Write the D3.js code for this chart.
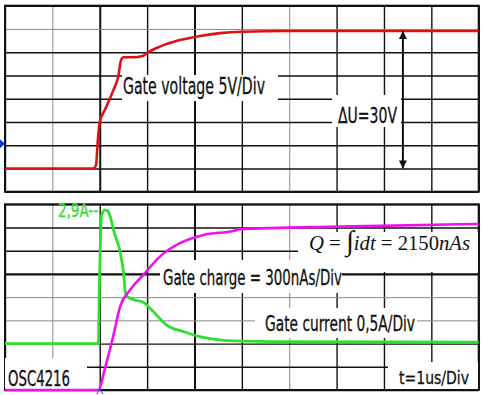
<!DOCTYPE html>
<html lang="en">
<head>
  <meta charset="UTF-8">
  <title>Gate charge</title>
  <script src="https://cdn.jsdelivr.net/npm/d3@7"></script>
  <style>
    body { margin: 0; background: #fff; }
    svg { display: block; }
    .lbl { font-family: 'Liberation Sans Narrow', 'DejaVu Sans Condensed', sans-serif; fill: #111; stroke-width: 0.3; }
  </style>
</head>
<body>
<svg id="scope" width="483" height="395"></svg>
<script>
  // gate voltage trace (us, V)
  var tVolt    = [0, 1.86, 1.92, 1.96, 2.0, 2.11, 2.29, 2.39, 2.45, 2.5, 2.7, 2.91, 2.99, 3.27, 3.69, 4.12, 4.54, 5.0, 6.0, 10];
  var gateVolt = [0, 0, 0.6, 6.1, 10, 12.6, 16.9, 19.7, 23.3, 23.9, 23.9, 24.2, 24.8, 26.2, 27.6, 28.5, 29.1, 29.4, 29.55, 29.55];
  // gate current trace (us, A)
  var tCurr    = [0, 1.97, 1.99, 2.04, 2.11, 2.18, 2.32, 2.43, 2.5, 2.55, 2.67, 2.92, 3.13, 3.41, 3.76, 4.11, 4.82, 6.0, 10];
  var gateCurr = [0, 0, 1.1, 2.77, 2.88, 2.84, 2.34, 1.98, 1.55, 1.05, 0.96, 0.89, 0.69, 0.40, 0.26, 0.15, 0.06, 0.04, 0.03];
  // gate charge trace (us, nAs)
  var tCharge    = [0, 1.97, 2.11, 2.29, 2.43, 2.64, 2.92, 3.27, 3.69, 4.19, 4.82, 4.96, 7.07, 10];
  var gateCharge = [0, 0, 280, 711, 1077, 1293, 1488, 1724, 1897, 2004, 2056, 2077, 2112, 2146];

  var svg = d3.select('#scope');

  var x  = d3.scaleLinear().domain([0, 10]).range([5, 478.7]);         // 1us/Div
  var yV = d3.scaleLinear().domain([-5, 35]).range([191.7, 5.7]);      // 5V/Div
  var yI = d3.scaleLinear().domain([-1, 3]).range([390, 204.3]);       // 0,5A/Div
  var yQ = d3.scaleLinear().domain([0, 2400]).range([390, 204.3]);     // 300nAs/Div

  // scope graticule, some lines came out lighter / heavier in the scan
  function graticule(yScale, grayX, heavyX, grayY, heavyY) {
    var y0 = yScale.range()[0], y1 = yScale.range()[1];
    var g = svg.append('g');
    g.append('g')
      .attr('transform', 'translate(0,' + y0 + ')')
      .call(d3.axisBottom(x).ticks(10).tickSize(-(y0 - y1)).tickFormat(''))
      .call(a => a.select('.domain').remove())
      .selectAll('.tick line')
      .attr('stroke', d => grayX.indexOf(d) >= 0 ? '#8a8a8a' : '#111')
      .attr('stroke-width', d => heavyX.indexOf(d) >= 0 ? 2 : (grayX.indexOf(d) >= 0 ? 1 : 1.4));
    g.append('g')
      .attr('transform', 'translate(' + x(0) + ',0)')
      .call(d3.axisLeft(yScale).ticks(8).tickSize(-(x(10) - x(0))).tickFormat(''))
      .call(a => a.select('.domain').remove())
      .selectAll('.tick line')
      .attr('stroke', d => grayY.indexOf(d) >= 0 ? '#8a8a8a' : '#111')
      .attr('stroke-width', d => heavyY.indexOf(d) >= 0 ? 2.2 : (grayY.indexOf(d) >= 0 ? 1 : 1.4));
    g.append('rect')
      .attr('x', x(0)).attr('y', y1)
      .attr('width', x(10) - x(0)).attr('height', y0 - y1)
      .attr('fill', 'none').attr('stroke', '#111').attr('stroke-width', 2);
  }
  graticule(yV, [1, 6], [2, 4], [30], []);
  graticule(yI, [1, 6], [4], [0.5, 1], [1.5]);

  // white label boxes over the graticule
  function box(x0, y0, w, h) {
    svg.append('rect').attr('x', x0).attr('y', y0).attr('width', w).attr('height', h).attr('fill', '#fff');
  }
  function label(txt, x0, y0, len, size, color) {
    svg.append('text').attr('class', 'lbl')
      .attr('x', x0).attr('y', y0)
      .attr('font-size', size)
      .attr('textLength', len).attr('lengthAdjust', 'spacingAndGlyphs')
      .style('fill', color || '#111')
      .style('stroke', color || '#111')
      .text(txt);
  }

  box(122, 75, 156, 26);
  label('Gate voltage 5V/Div', 123, 94, 142, 22.5);
  box(332, 95, 69, 32);
  label('\u0394U=30V', 338, 122.5, 59, 21);

  box(298, 232, 180, 40);
  var q = svg.append('text')
    .attr('x', 309).attr('y', 250)
    .attr('font-family', "'Liberation Serif', 'DejaVu Serif', serif")
    .attr('font-size', 20)
    .attr('textLength', 161).attr('lengthAdjust', 'spacingAndGlyphs')
    .attr('fill', '#111');
  q.append('tspan').attr('font-style', 'italic').text('Q');
  q.append('tspan').text(' = ');
  q.append('tspan').attr('font-size', 28).text('\u222B');
  q.append('tspan').attr('font-style', 'italic').text('idt');
  q.append('tspan').text(' = 2150');
  q.append('tspan').attr('font-style', 'italic').text('nAs');

  box(160, 260, 182, 33);
  label('Gate charge = 300nAs/Div', 163, 284.5, 179, 21.5);
  box(255, 308, 162, 30);
  label('Gate current 0,5A/Div', 265, 330.5, 150, 21.5);
  box(5, 358, 82, 31);
  label('OSC4216', 8, 386, 62, 20.5);
  box(388, 362, 90, 27);
  label('t=1us/Div', 399, 383.5, 70, 18.5);
  label('2,9A--', 58, 216.5, 40, 20, '#33dd33');

  // traces
  var line = d3.line().curve(d3.curveMonotoneX);
  svg.append('path')
    .attr('d', line(tVolt.map((t, i) => [x(t), yV(gateVolt[i])])))
    .attr('fill', 'none').attr('stroke', '#dd1111').attr('stroke-width', 2.6);
  svg.append('path')
    .attr('d', line(tCurr.map((t, i) => [x(t), yI(gateCurr[i])])))
    .attr('fill', 'none').attr('stroke', '#2ee02e').attr('stroke-width', 2.8);
  svg.append('path')
    .attr('d', line(tCharge.map((t, i) => [x(t), yQ(gateCharge[i])])))
    .attr('fill', 'none').attr('stroke', '#ee11ee').attr('stroke-width', 2.6);

  // delta U arrow
  var defs = svg.append('defs');
  ['up', 'down'].forEach(function (k) {
    defs.append('marker').attr('id', 'arr-' + k)
      .attr('viewBox', '0 0 10 10').attr('refX', 5).attr('refY', k === 'up' ? 0 : 10)
      .attr('markerWidth', 8).attr('markerHeight', 10).attr('markerUnits', 'userSpaceOnUse')
      .attr('orient', 0)
      .append('path')
      .attr('d', k === 'up' ? 'M5,0 L10,10 L0,10 Z' : 'M0,0 L10,0 L5,10 Z')
      .attr('fill', '#111');
  });
  svg.append('line')
    .attr('x1', x(8.4)).attr('x2', x(8.4))
    .attr('y1', yV(29.55)).attr('y2', yV(0))
    .attr('stroke', '#111').attr('stroke-width', 2)
    .attr('marker-start', 'url(#arr-up)').attr('marker-end', 'url(#arr-down)');

  // channel / trigger markers
  svg.append('path')
    .attr('d', 'M0,' + (yV(5) - 6) + ' L5,' + (yV(5) - 1.5) + ' L0,' + (yV(5) + 3) + ' Z')
    .attr('fill', '#1133dd');
  svg.append('path')
    .attr('d', 'M' + (x(2) - 3) + ',394 L' + x(2) + ',389 L' + (x(2) + 3) + ',394')
    .attr('fill', 'none').attr('stroke', '#3344cc').attr('stroke-width', 1);
</script>
</body>
</html>
